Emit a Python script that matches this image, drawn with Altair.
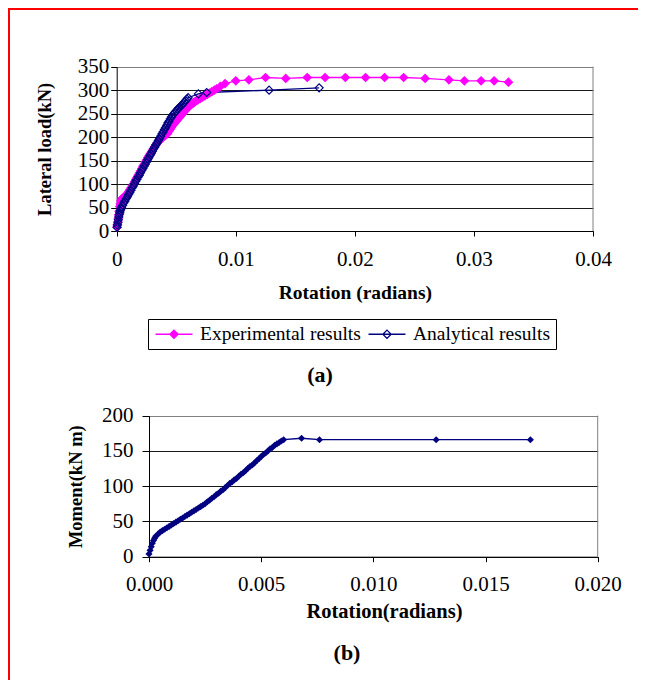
import altair as alt
import pandas as pd

# ---------------- data ----------------
exp_rot = [0.00003, 0.00006, 0.0001, 0.00013, 0.00016, 0.0002, 0.00025, 0.0003, 0.00035, 0.0004,
           0.0005, 0.0006, 0.0007, 0.0008, 0.0009, 0.001, 0.0011, 0.0012, 0.0013, 0.0014,
           0.0015, 0.0016, 0.0017, 0.0018, 0.0019, 0.002, 0.0021, 0.0022, 0.0023, 0.0024,
           0.0025, 0.0026, 0.0027, 0.0028, 0.0029, 0.003, 0.0031, 0.0032, 0.0033, 0.0034,
           0.0035, 0.0036, 0.0037, 0.0038, 0.0039, 0.004, 0.0041, 0.0042, 0.0043, 0.0044,
           0.0045, 0.0046, 0.0047, 0.0048, 0.0049, 0.005, 0.0051, 0.0052, 0.0053, 0.0054,
           0.0055, 0.0056, 0.0057, 0.0058, 0.0059, 0.006, 0.0061, 0.0062, 0.0063, 0.0064,
           0.0065, 0.0066, 0.0068, 0.007, 0.0072, 0.0074, 0.0076, 0.0078, 0.008, 0.0082,
           0.0084, 0.0087, 0.0091, 0.01, 0.0111, 0.0125, 0.0142, 0.016, 0.0175, 0.0192,
           0.0209, 0.0225, 0.0241, 0.0259, 0.0279, 0.0292, 0.0306, 0.0317, 0.0329]
exp_load = [8, 14, 20, 27, 34, 42, 52, 58, 64, 68,
            70, 72, 74, 76, 80, 84, 88, 92, 96, 100,
            105, 110, 114, 119, 123, 128, 133, 138, 142, 147,
            151, 156, 160, 164, 168, 172, 176, 180, 184, 187,
            190, 193, 196, 198, 200, 202, 204, 206, 209, 213,
            217, 221, 225, 228, 231, 234, 237, 240, 243, 246,
            249, 252, 255, 258, 261, 264, 266, 268, 270, 272,
            274, 276, 279, 282, 285, 288, 291, 294, 297, 300,
            303, 308, 314, 320, 322, 327, 325, 327, 327, 327,
            327, 327, 327, 325, 322, 320, 320, 320, 317]

ana_rot = [0.00003, 0.00006, 0.0001, 0.00014, 0.00018, 0.00022, 0.00026, 0.0003, 0.00035, 0.0004,
           0.0005, 0.0006, 0.0007, 0.0008, 0.0009, 0.001, 0.0011, 0.0012, 0.0013, 0.0014,
           0.0015, 0.0016, 0.0017, 0.0018, 0.0019, 0.002, 0.0021, 0.0022, 0.0023, 0.0024,
           0.0025, 0.0026, 0.0027, 0.0028, 0.0029, 0.003, 0.0031, 0.0032, 0.0033, 0.0034,
           0.0035, 0.0036, 0.0037, 0.0038, 0.0039, 0.004, 0.0041, 0.0042, 0.0043, 0.0044,
           0.0045, 0.0046, 0.0047, 0.0048, 0.0049, 0.005, 0.0051, 0.0052, 0.0053, 0.0054,
           0.0055, 0.0056, 0.0057, 0.0058, 0.0059, 0.006, 0.00686, 0.00756, 0.0128, 0.017]
ana_load = [8, 13, 18, 24, 30, 35, 39, 43, 47, 50,
            55, 60, 64, 69, 73, 78, 82, 87, 92, 96,
            101, 106, 110, 115, 119, 124, 129, 133, 138, 142,
            147, 152, 156, 161, 165, 170, 175, 179, 184, 188,
            193, 197, 202, 207, 211, 216, 220, 225, 230, 234,
            239, 243, 247, 250, 253, 256, 259, 262, 264, 267,
            269, 272, 275, 278, 281, 284, 292, 295, 300, 305]

mom_rot = [0.0, 0.00005, 0.0001, 0.00015, 0.0002, 0.00025, 0.0003, 0.0004, 0.0005, 0.0006,
           0.0007, 0.0008, 0.0009, 0.001, 0.0011, 0.0012, 0.0013, 0.0014, 0.0015, 0.0016,
           0.0017, 0.0018, 0.0019, 0.002, 0.0021, 0.0022, 0.0023, 0.0024, 0.0025, 0.0026,
           0.0027, 0.0028, 0.0029, 0.003, 0.0031, 0.0032, 0.0033, 0.0034, 0.0035, 0.0036,
           0.0037, 0.0038, 0.0039, 0.004, 0.0041, 0.0042, 0.0043, 0.0044, 0.0045, 0.0046,
           0.0047, 0.0048, 0.0049, 0.005, 0.0051, 0.0052, 0.0053, 0.0054, 0.0055, 0.0056,
           0.0057, 0.0058, 0.0059, 0.006, 0.0068, 0.0076, 0.0128, 0.017]
mom_val = [4, 9, 14, 19, 23, 26, 29, 32, 35, 37,
           39, 41, 43, 45, 47, 49, 51, 53, 55, 57,
           59, 61, 63, 65, 67, 69, 71, 73, 75, 78,
           80, 83, 85, 88, 90, 93, 95, 98, 101, 104,
           106, 109, 111, 114, 117, 119, 122, 125, 128, 130,
           133, 136, 139, 142, 145, 147, 150, 153, 155, 158,
           160, 162, 164, 166, 168, 166, 166, 166]

series_names = ["Experimental results", "Analytical results"]
ticks_a_x = [0, 0.01, 0.02, 0.03, 0.04]
ticks_a_y = [0, 50, 100, 150, 200, 250, 300, 350]
ticks_b_x = [0, 0.005, 0.01, 0.015, 0.02]
ticks_b_y = [0, 50, 100, 150, 200]

# ---------------- layout / style ----------------
W, H = 630, 672
AX = [108.7, 585.0]
AY = [223.0, 58.7]
BX = [141.0, 589.7]
BY = [548.7, 407.7]
FONT = "Liberation Serif"
MAGENTA = "#FF00FF"
NAVY = "#000080"
GRID = "#1a1a1a"
BORDER = "#808080"

df_a = pd.DataFrame({
    "rot": exp_rot + ana_rot,
    "load": exp_load + ana_load,
    "series": [series_names[0]] * len(exp_rot) + [series_names[1]] * len(ana_rot),
    "idx": list(range(len(exp_rot))) + list(range(len(ana_rot))),
})
df_b = pd.DataFrame({"rot": mom_rot, "moment": mom_val, "idx": list(range(len(mom_rot)))})
one = pd.DataFrame({"k": [0]})


def x_axis(title, values, fmt, off, title_y, title_size, title_x=None):
    kw = dict(orient="bottom", offset=off, values=values, format=fmt, grid=False,
              tickSize=5, tickColor="black", domainColor="black", labelFont=FONT,
              labelFontSize=21, labelColor="black", labelBaseline="middle", labelPadding=23,
              labelFlush=False,
              title=title, titleFont=FONT, titleFontSize=title_size, titleFontWeight="bold",
              titleColor="black", titleY=title_y, titleBaseline="middle")
    if title_x is not None:
        kw["titleX"] = title_x
    return alt.Axis(**kw)


def y_axis(title, values, off, top, tick, pad, title_x):
    return alt.Axis(orient="left", offset=off, values=values, grid=True,
                    gridColor={"condition": {"test": f"datum.value === {top}", "value": BORDER},
                               "value": GRID},
                    gridWidth=1, tickSize=tick, tickColor="black", domainColor="black",
                    labelFont=FONT, labelFontSize=21, labelColor="black", labelPadding=pad,
                    labelFlush=False,
                    title=title, titleFont=FONT, titleFontSize=18.5, titleFontWeight="bold",
                    titleColor="black", titleAngle=270, titleX=title_x, titleBaseline="middle")


xa = alt.X("rot:Q", scale=alt.Scale(domain=[0, 0.04], range=AX, nice=False, zero=False),
           axis=x_axis("Rotation (radians)", ticks_a_x, "~g", -(H - AY[0]), 61, 19.5))
ya = alt.Y("load:Q", scale=alt.Scale(domain=[0, 350], range=AY, nice=False, zero=False),
           axis=y_axis("Lateral load(kN)", ticks_a_y, -AX[0], 350, 6, 2, -72.7))

leg = alt.Legend(title=None, orient="none", legendX=140, legendY=311, direction="horizontal",
                 symbolType="M-2,0L2,0M0,-0.45L0.45,0L0,0.45L-0.45,0Z", symbolSize=342,
                 symbolStrokeWidth=1.3, symbolOffset=11, labelOffset=16, columnPadding=4,
                 labelFont=FONT, labelFontSize=19.5, labelColor="black", labelLimit=400,
                 strokeColor="black", fillColor="white", padding=5)

line_exp = alt.Chart(df_a).transform_filter(alt.datum.series == series_names[0]).mark_line(
    color=MAGENTA, strokeWidth=1.3).encode(x=xa, y=ya, order="idx:Q")
line_ana = alt.Chart(df_a).transform_filter(alt.datum.series == series_names[1]).mark_line(
    color=NAVY, strokeWidth=1.3).encode(x=xa, y=ya, order="idx:Q")
pts_a = alt.Chart(df_a).mark_point(shape="diamond", size=64, filled=True, strokeWidth=1.2,
                                   opacity=1).encode(
    x=xa, y=ya,
    stroke=alt.Stroke("series:N", scale=alt.Scale(domain=series_names, range=[MAGENTA, NAVY]),
                      legend=leg),
    fill=alt.Fill("series:N", scale=alt.Scale(domain=series_names,
                                              range=[MAGENTA, "transparent"]),
                  legend=leg),
)
border_a = alt.Chart(one).mark_rule(color=BORDER, strokeWidth=1).encode(
    x=alt.X(datum=0.04), y=alt.Y(datum=0), y2=alt.Y2(datum=350))
layer_a = alt.layer(border_a, line_exp, line_ana, pts_a)

xb = alt.X("rot:Q", scale=alt.Scale(domain=[0, 0.02], range=BX, nice=False, zero=False),
           axis=x_axis("Rotation(radians)", ticks_b_x, ".3f", -(H - BY[0]), 55, 20.5, 376))
yb = alt.Y("moment:Q", scale=alt.Scale(domain=[0, 200], range=BY, nice=False, zero=False),
           axis=y_axis("Moment(kN m)", ticks_b_y, -BX[0], 200, 7, 9, -74))

line_b = alt.Chart(df_b).mark_line(color=NAVY, strokeWidth=1.3).encode(x=xb, y=yb, order="idx:Q")
pts_b = alt.Chart(df_b).mark_point(shape="diamond", size=50, filled=True, color=NAVY,
                                   opacity=1).encode(x=xb, y=yb)
border_b = alt.Chart(one).mark_rule(color=BORDER, strokeWidth=1).encode(
    x=alt.X(datum=0.02), y=alt.Y(datum=0), y2=alt.Y2(datum=200))
layer_b = alt.layer(border_b, line_b, pts_b)

cap_a = alt.Chart(one).mark_text(text="(a)", font=FONT, fontSize=22, fontWeight="bold",
                                 color="black", align="center", baseline="middle").encode(
    x=alt.value(312), y=alt.value(367))
cap_b = alt.Chart(one).mark_text(text="(b)", font=FONT, fontSize=22, fontWeight="bold",
                                 color="black", align="center", baseline="middle").encode(
    x=alt.value(339), y=alt.value(645))
red_left = alt.Chart(one).mark_rule(color="red", strokeWidth=2).encode(
    x=alt.value(1), y=alt.value(0), y2=alt.value(H))
red_top = alt.Chart(one).mark_rule(color="red", strokeWidth=2).encode(
    x=alt.value(0), x2=alt.value(W), y=alt.value(1))

chart = alt.layer(layer_a, layer_b, cap_a, cap_b, red_left, red_top).resolve_scale(
    x="independent", y="independent"
).properties(
    width=W, height=H, padding=0, autosize=alt.AutoSizeParams(type="none")
).configure_view(stroke="transparent").configure_axis(labelFont=FONT, titleFont=FONT)

chart.save("out.html", embed_options={"renderer": "svg", "actions": False})
